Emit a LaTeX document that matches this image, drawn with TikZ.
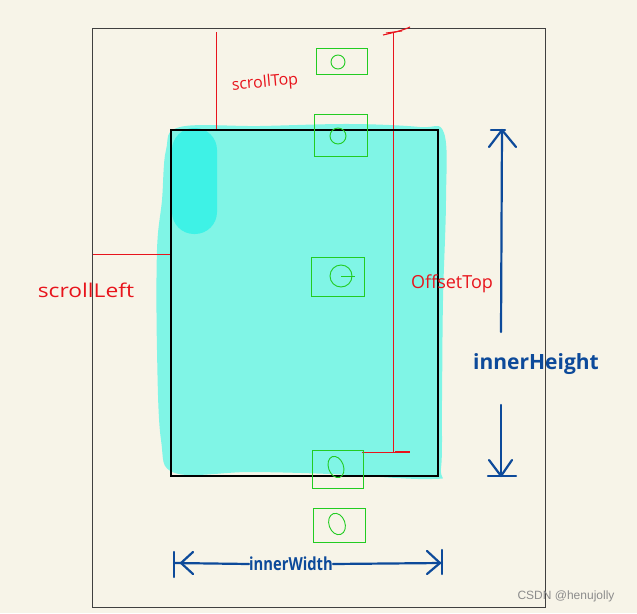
\documentclass[tikz,border=0pt]{standalone}
\usepackage{fontspec}
\setmainfont{Open Sans}
\newfontfamily\wmfont{Liberation Sans}
\usetikzlibrary{arrows.meta}
\definecolor{paper}{HTML}{F7F4E8}
\definecolor{aqua}{HTML}{80F5E6}
\definecolor{aquadark}{HTML}{3EF2E6}
\definecolor{gbox}{HTML}{22CC22}
\definecolor{rline}{HTML}{E8141C}
\definecolor{bline}{HTML}{0D4A9A}
\tikzset{
  gbox/.style={draw=gbox, line width=0.9pt},
  rline/.style={draw=rline, line width=0.9pt},
  bline/.style={draw=bline, line width=2.2pt, line cap=round, line join=round},
  rlabel/.style={text=rline, font=\fontsize{15}{15}\selectfont, inner sep=0pt},
  blabel/.style={text=bline, font=\bfseries\fontsize{19}{19}\selectfont, inner sep=0pt},
}
\begin{document}
\begin{tikzpicture}[x=1pt,y=-1pt]
\useasboundingbox (0,0) rectangle (637,613);
\fill[paper] (0,0) rectangle (637,613);
% outer frame
\draw[draw=black!75, line width=0.8pt] (92,28) rectangle (545,607);
% cyan blob
\fill[aqua] plot[smooth cycle, tension=0.6] coordinates {
 (180,127) (260,126) (350,124) (420,127) (444,133) (446,200) (443,300)
 (442,400) (441,468) (432,479) (330,474) (250,472) (175,473) (161,440)
 (157,350) (157,250) (162,200) (166,150)};
\fill[aquadark, rounded corners=22pt] (172,128) rectangle (217,234);
% red scroll lines
\coordinate (stTop) at (216,32);
\coordinate (stBot) at (216,130);
\draw[rline] (stTop) -- (stBot);
\coordinate (slL) at (93,254);
\coordinate (slR) at (170,254);
\draw[rline] (slL) -- (slR);
% offsetTop line
\coordinate (otTop) at (393,33);
\coordinate (otBot) at (393,452);
\draw[rline] (otTop) -- (otBot);
\draw[rline, line width=1.1pt] (383,35) .. controls (392,33) and (404,30) .. (410,27);
\draw[rline, line width=1pt] (386,33) -- (402,31);
\coordinate (obL) at (362,452);
\coordinate (obR) at (410,452);
\draw[rline] (obL) -- (obR);
\draw[rline, line width=2pt] (395,451.5) -- (410,451.5);
% black window rectangle
\draw[black, line width=2.3pt] (171,130) rectangle (438,476);
% green boxes
\draw[gbox] (316,48) rectangle (367,74);
\draw[gbox] (338,62) circle (7);
\draw[gbox] (314,114) rectangle (367,156);
\draw[gbox] (338,136) circle (8);
\draw[gbox] (311,257) rectangle (364,296);
\draw[gbox] (341,276) circle (11);
\draw[gbox] (341,276) -- (355,276);
\draw[gbox] (312,450) rectangle (363,488);
\draw[gbox, rotate around={20:(336,467)}] (336,467) ellipse (7.5 and 11);
\draw[gbox] (313,508) rectangle (365,542);
\draw[gbox, rotate around={20:(337,524)}] (337,524) ellipse (8 and 11);
% red labels
\node[rlabel, rotate=5, font=\fontsize{16}{16}\selectfont] (lblST) at (265,83) {scrollTop};
\node[rlabel, font=\fontsize{19}{19}\selectfont, xscale=1.2] (lblSL) at (86,290) {scrollLeft};
\node[rlabel, font=\fontsize{18}{18}\selectfont] (lblOT) at (452,284) {OffsetTop};
% innerHeight arrow
\coordinate (ihTop) at (502,130);
\coordinate (ihMid1) at (501,332);
\coordinate (ihMid2) at (501,405);
\coordinate (ihBot) at (501,476);
\draw[bline] (ihMid1) -- (ihTop);
\draw[bline] (489,147) -- (ihTop) -- (516,147);
\draw[bline] (491,130) -- (505,130);
\draw[bline] (ihMid2) -- (ihBot);
\draw[bline] (489,460) -- (ihBot) -- (512,460);
\draw[bline] (488,476) -- (516,476);
\node[blabel, font=\bfseries\fontsize{21}{21}\selectfont] (lblIH) at (536,364) {innerHeight};
% innerWidth arrow
\coordinate (iwL) at (174,563);
\coordinate (iwR) at (442,563);
\node[blabel, font=\bfseries\fontsize{18}{18}\selectfont, xscale=0.82] (lblIW) at (291,564) {innerWidth};
\draw[bline] (iwL) -- (lblIW.west);
\draw[bline] (lblIW.east) -- (iwR);
\draw[bline] (193,552) -- (181,563) -- (193,574);
\draw[bline] (427,551) -- (440,563) -- (427,574);
\draw[bline] (174,552) -- (174,577);
\draw[bline] (442,550) -- (442,574);
% watermark
\node[text=black!45, font=\wmfont\fontsize{12}{12}\selectfont, inner sep=0pt] (wm) at (566,596) {CSDN @henujolly};
\end{tikzpicture}
\end{document}
